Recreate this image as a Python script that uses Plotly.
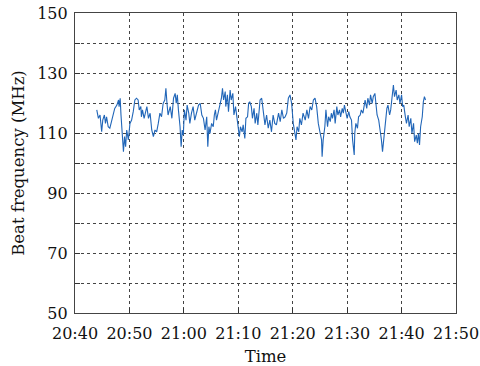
import pandas as pd
import plotly.graph_objects as go

# Elapsed minutes after 20:40 and measured beat frequency (MHz)
minutes = [
    4.0, 4.3, 4.6, 4.9, 5.1, 5.4, 5.6, 5.8, 6.1, 6.4, 6.7, 7.0, 7.3, 7.7, 8.0, 8.1, 8.3, 8.45,
    8.7, 8.9, 9.1, 9.3, 9.5, 9.8, 10.1, 10.4, 10.7, 11.0, 11.3, 11.6, 11.8, 12.1, 12.2, 12.4,
    12.7, 12.9, 13.2, 13.5, 13.8, 14.1, 14.4, 14.7, 15.0, 15.3, 15.6, 15.9, 16.2, 16.5, 16.7,
    16.9, 17.1, 17.5, 17.8, 18.1, 18.4, 18.6, 18.8, 19.0, 19.3, 19.5, 19.7, 19.9, 20.1, 20.4,
    20.6, 20.9, 21.1, 21.4, 21.7, 22.0, 22.4, 22.7, 23.0, 23.3, 23.6, 23.9, 24.2, 24.4, 24.6,
    24.8, 25.1, 25.4, 25.6, 25.8, 26.0, 26.3, 26.6, 26.9, 27.1, 27.3, 27.6, 27.7, 28.0, 28.2,
    28.5, 28.7, 29.0, 29.2, 29.5, 29.7, 30.0, 30.2, 30.4, 30.7, 30.9, 31.2, 31.4, 31.7, 31.9,
    32.1, 32.4, 32.6, 32.9, 33.1, 33.4, 33.6, 33.9,
    34.0, 34.3, 34.6, 34.9, 35.2, 35.5, 35.8, 36.1, 36.4, 36.7, 37.0, 37.4, 37.7, 38.0, 38.3,
    38.6, 38.9, 39.2, 39.5, 39.8, 40.1, 40.4, 40.6, 40.8, 41.1, 41.3, 41.6, 41.9, 42.3, 42.6,
    42.9, 43.2, 43.5, 43.8, 44.1, 44.4, 44.7, 45.0, 45.3, 45.4, 45.6, 45.9, 46.1, 46.4, 46.6,
    46.9, 47.1, 47.3, 47.6, 47.8, 48.1, 48.3, 48.6, 48.8, 49.1, 49.3, 49.5, 49.8, 50.0, 50.3,
    50.5, 50.8, 51.0, 51.3, 51.4, 51.6, 51.9, 52.1, 52.4, 52.6, 52.9, 53.1, 53.3, 53.6, 53.8,
    54.1, 54.3, 54.6, 54.8, 55.1, 55.3, 55.5, 55.8, 56.0, 56.3, 56.5, 56.8, 57.0, 57.3, 57.5,
    57.8, 58.0, 58.2, 58.5, 58.7, 59.0, 59.2, 59.5, 59.7, 60.0, 60.2, 60.4, 60.7, 60.9, 61.2,
    61.4, 61.7, 61.9, 62.2, 62.4, 62.7, 62.9, 63.1, 63.3, 63.5, 63.8, 64.0, 64.2, 64.4,
]
beat_mhz = [
    117.7, 114.9, 116.0, 110.4, 114.3, 116.0, 113.2, 115.4, 112.1, 111.6, 113.8, 116.6, 118.2,
    119.3, 121.0, 118.8, 121.6, 116.0, 107.7, 103.8, 108.8, 105.4, 111.0, 107.7, 113.2, 114.3,
    117.1, 121.0, 121.6, 121.0, 117.7, 118.8, 115.4, 117.7, 114.9, 116.6, 118.8, 114.9, 116.6,
    111.0, 108.8, 111.0, 110.4, 113.2, 116.6, 115.4, 119.9, 121.0, 124.9, 119.9, 116.0, 118.8,
    114.9, 121.6, 123.2, 119.9, 122.7, 117.7, 112.1, 105.4, 111.0, 109.3, 117.7, 114.3, 119.3,
    116.6, 113.2, 116.6, 118.8, 114.3, 117.7, 119.3, 119.9, 116.0, 114.9, 111.0, 115.4, 105.4,
    112.1, 109.9, 113.2, 112.1, 116.0, 117.7, 114.3, 116.6, 118.8, 121.6, 124.9, 121.0, 123.8,
    118.8, 122.7, 117.1, 124.3, 121.0, 123.2, 116.0, 118.8, 115.4, 110.4, 108.8, 112.1, 110.4,
    112.7, 108.2, 114.9, 115.4, 119.9, 120.4, 118.8, 114.9, 118.2, 113.2, 116.6, 112.7, 118.8,
    121.0, 121.6, 117.7, 112.7, 116.0, 111.6, 114.3, 110.4, 116.0, 113.2, 112.7, 116.6, 113.8,
    117.7, 114.9, 115.4, 116.6, 121.6, 122.7, 119.9, 113.2, 110.4, 107.7, 112.1, 110.4, 114.9,
    112.7, 116.6, 114.3, 117.7, 114.9, 118.8, 117.7, 121.0, 121.6, 118.8, 113.2, 110.4, 107.7,
    102.1, 107.7, 112.1, 117.7, 112.1, 115.4, 113.8, 116.6, 114.9, 117.7, 113.2, 118.8, 116.0,
    117.7, 115.4, 118.2, 116.6, 119.3, 116.6, 114.9, 117.1, 115.4, 114.3, 107.7, 102.7, 109.9,
    113.2, 111.6, 115.4, 116.0, 117.7, 116.6, 118.8, 121.0, 118.2, 121.6, 119.3, 122.7, 119.9,
    122.1, 123.2, 118.8, 116.0, 114.3, 112.1, 107.7, 103.8, 109.9, 112.7, 118.2, 119.3, 116.0,
    117.7, 121.0, 126.0, 122.1, 124.3, 121.0, 122.7, 119.9, 122.7, 118.8, 119.3, 115.4, 113.2,
    116.0, 112.1, 114.9, 109.9, 113.2, 107.1, 109.3, 106.6, 109.9, 106.0, 112.1, 115.4, 120.4,
    122.1, 121.0,
]

start = pd.Timestamp("2020-01-01 20:40")
times = [start + pd.Timedelta(minutes=m) for m in minutes]

x_ticks = [start + pd.Timedelta(minutes=10 * k) for k in range(8)]
x_labels = [t.strftime("%H:%M") for t in x_ticks]
y_ticks = list(range(50, 151, 10))
y_labels = [str(v) if (v - 50) % 20 == 0 else "" for v in y_ticks]

serif = "DejaVu Serif, Liberation Serif, serif"
grid_dash = "3px,3px"
text_color = "#111111"

fig = go.Figure(
    go.Scatter(
        x=times,
        y=beat_mhz,
        mode="lines",
        line=dict(color="#2166b8", width=1.1),
        showlegend=False,
    )
)

axis_common = dict(
    automargin=False,
    showline=True,
    linecolor="#444444",
    linewidth=1.2,
    mirror=True,
    ticks="inside",
    ticklen=5,
    tickcolor="#333333",
    showgrid=True,
    gridcolor="#444444",
    gridwidth=1,
    griddash=grid_dash,
    zeroline=False,
    tickfont=dict(family=serif, size=16, color=text_color),
)

fig.update_layout(
    width=480,
    height=366,
    margin=dict(l=75, r=24, t=13, b=53),
    paper_bgcolor="white",
    plot_bgcolor="white",
    xaxis=dict(
        axis_common,
        range=[x_ticks[0], x_ticks[-1]],
        tickmode="array",
        tickvals=x_ticks,
        ticktext=x_labels,
        ticklabelstandoff=6,
        title=dict(text="Time", font=dict(family=serif, size=16.5, color=text_color), standoff=8),
    ),
    yaxis=dict(
        axis_common,
        range=[50, 150],
        tickmode="array",
        tickvals=y_ticks,
        ticktext=y_labels,
        ticklabelstandoff=3,
        title=dict(text="Beat frequency (MHz)", font=dict(family=serif, size=16.5, color=text_color), standoff=8),
    ),
)

fig.write_html("out.html")
